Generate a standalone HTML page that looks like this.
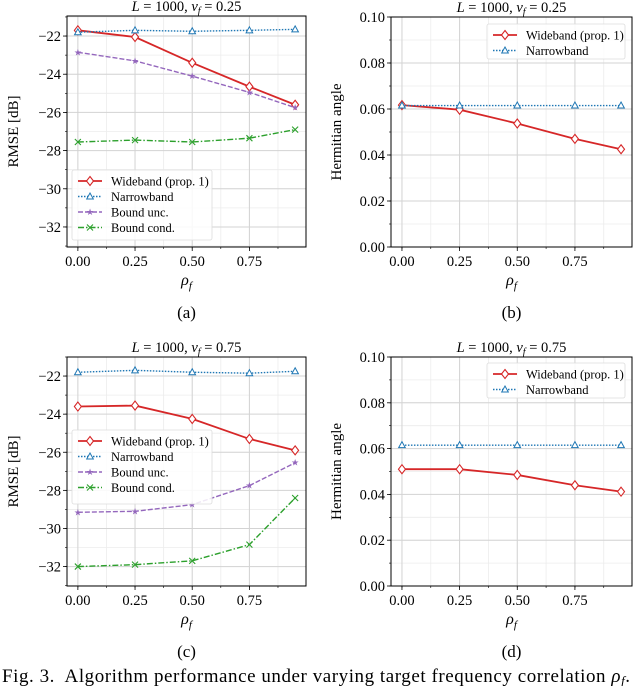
<!DOCTYPE html>
<html><head><meta charset="utf-8">
<style>
html,body{margin:0;padding:0;background:#fff;}
svg{display:block;font-family:"Liberation Serif",serif;}
</style></head>
<body>
<svg id="fig" width="640" height="686" viewBox="0 0 640 686" xmlns="http://www.w3.org/2000/svg">
<text x="2" y="682" font-size="19" fill="#000" textLength="628" lengthAdjust="spacing" xml:space="preserve">Fig. 3.  Algorithm performance under varying target frequency correlation <tspan font-style="italic">ρ</tspan><tspan font-style="italic" font-size="13" dy="3">f</tspan><tspan dy="-3">.</tspan></text>
</svg>
<script>
const xCats = [0, 0.25, 0.5, 0.75, 0.95];
const xTickLabels = ["0.00", "0.25", "0.50", "0.75"];
const xTickVals = [0, 0.25, 0.5, 0.75];
const rmseTicks = [-22, -24, -26, -28, -30, -32];
const angleTicks = [0, 0.02, 0.04, 0.06, 0.08, 0.10];
const angleTickLabels = ["0.00", "0.02", "0.04", "0.06", "0.08", "0.10"];
const aWide = [-21.7, -22.05, -23.4, -24.65, -25.6];
const aNarrow = [-21.8, -21.7, -21.75, -21.7, -21.65];
const aBoundUnc = [-22.85, -23.3, -24.1, -24.95, -25.75];
const aBoundCond = [-27.55, -27.45, -27.55, -27.35, -26.9];
const cWide = [-23.6, -23.55, -24.25, -25.3, -25.9];
const cNarrow = [-21.8, -21.7, -21.8, -21.85, -21.75];
const cBoundUnc = [-29.15, -29.1, -28.75, -27.75, -26.55];
const cBoundCond = [-32.0, -31.9, -31.7, -30.85, -28.4];
const bWide = [0.0617, 0.0597, 0.0537, 0.047, 0.0425];
const bNarrow = [0.0615, 0.0615, 0.0615, 0.0615, 0.0615];
const dWide = [0.051, 0.051, 0.0485, 0.044, 0.0412];
const dNarrow = [0.0615, 0.0615, 0.0615, 0.0615, 0.0615];

const NS = "http://www.w3.org/2000/svg";
const svg = document.getElementById("fig");
function mk(tag, attrs, parent, text) {
  const e = document.createElementNS(NS, tag);
  for (const k in attrs) e.setAttribute(k, attrs[k]);
  if (text !== undefined) e.textContent = text;
  (parent || svg).appendChild(e);
  return e;
}
const styles = {
  wide: {color: "#d62728", dash: "", marker: "diamond", label: "Wideband (prop. 1)"},
  narrow: {color: "#1f77b4", dash: "1.5,1.5", marker: "tri", label: "Narrowband"},
  unc: {color: "#9467bd", dash: "5,2", marker: "star", label: "Bound unc."},
  cond: {color: "#2ca02c", dash: "6,2,1.5,2", marker: "x", label: "Bound cond."}
};
function marker(g, kind, x, y, color) {
  let m;
  if (kind === "diamond") m = mk("polygon", {points: `${x},${y-4.5} ${x+3.5},${y} ${x},${y+4.5} ${x-3.5},${y}`, fill: "#fff", stroke: color, "stroke-width": 1.1}, g);
  else if (kind === "tri") m = mk("polygon", {points: `${x},${y-3.5} ${x+3.3},${y+2.5} ${x-3.3},${y+2.5}`, fill: "#fff", stroke: color, "stroke-width": 1}, g);
  else if (kind === "star") m = mk("text", {x: x, y: y + 3, "font-size": 9, "text-anchor": "middle", fill: color}, g, "★");
  else m = mk("path", {d: `M${x-3},${y-3}L${x+3},${y+3}M${x-3},${y+3}L${x+3},${y-3}`, stroke: color, "stroke-width": 1.1}, g);
  
  
}
function panel(o) {
  const {L, R, T, B, xmin, xmax, ymin, ymax} = o;
  const sx = v => L + (v - xmin) / (xmax - xmin) * (R - L);
  const sy = v => B - (v - ymin) / (ymax - ymin) * (B - T);
  const g = mk("g", {});
  
  
  for (let v = 0; v <= xmax; v += 0.125) {
    const ln = mk("line", {x1: sx(v), x2: sx(v), y1: T, y2: B, stroke: "#ececec", "stroke-width": 0.8}, g);
    
    
  }
  for (let i = Math.ceil(ymin / o.minor); i * o.minor <= ymax + 1e-9; i++) {
    const v = i * o.minor;
    const ln = mk("line", {x1: L, x2: R, y1: sy(v), y2: sy(v), stroke: "#ececec", "stroke-width": 0.8}, g);
    
    
    const tk = mk("line", {x1: L - 2, x2: L, y1: sy(v), y2: sy(v), stroke: "#000", "stroke-width": 0.6}, g);
    
    
  }
  for (let v = 0; v <= xmax; v += 0.125) {
    const tk = mk("line", {x1: sx(v), x2: sx(v), y1: B, y2: B + 2, stroke: "#000", "stroke-width": 0.6}, g);
    
    
  }
  xTickVals.forEach((v, i) => {
    const ln = mk("line", {x1: sx(v), x2: sx(v), y1: T, y2: B, stroke: "#d3d3d3", "stroke-width": 1}, g);
    
    
    const tk = mk("line", {x1: sx(v), x2: sx(v), y1: B, y2: B + 4, stroke: "#000", "stroke-width": 0.8}, g);
    
    
    const t = mk("text", {x: sx(v), y: B + 19, "font-size": 14.5, "text-anchor": "middle"}, g, xTickLabels[i]);
    
    
  });
  o.yTicks.forEach((v, i) => {
    const ln = mk("line", {x1: L, x2: R, y1: sy(v), y2: sy(v), stroke: "#d3d3d3", "stroke-width": 1}, g);
    
    
    const tk = mk("line", {x1: L - 4, x2: L, y1: sy(v), y2: sy(v), stroke: "#000", "stroke-width": 0.8}, g);
    
    
    const t = mk("text", {x: L - 6, y: sy(v) + 5, "font-size": 14.5, "text-anchor": "end"}, g, o.yLabels[i]);
    
    
  });
  o.series.forEach(s => {
    const st = styles[s.key];
    const pts = s.data.map((v, i) => sx(xCats[i]) + "," + sy(v)).join(" ");
    const pl = mk("polyline", {points: pts, fill: "none", stroke: st.color, "stroke-width": s.key === "wide" ? 1.8 : 1.4, "stroke-dasharray": st.dash}, g);
    
    
    s.data.forEach((v, i) => marker(g, st.marker, sx(xCats[i]), sy(v), st.color));
  });
  const fr = mk("rect", {x: L, y: T, width: R - L, height: B - T, fill: "none", stroke: "#000", "stroke-width": 1}, g);
  
  
  const lg = mk("g", {}, g);
  
  
  const lb = mk("rect", {x: o.leg[0], y: o.leg[1], width: o.leg[2], height: o.leg[3], rx: 2, fill: "#fff", "fill-opacity": 0.85, stroke: "#ddd", "stroke-width": 0.8}, lg);
  
  
  o.series.forEach((s, i) => {
    const st = styles[s.key];
    const y = o.leg[1] + 11 + i * 15.5;
    const x0 = o.leg[0] + 6;
    const l = mk("line", {x1: x0, x2: x0 + 24, y1: y, y2: y, stroke: st.color, "stroke-width": s.key === "wide" ? 1.8 : 1.4, "stroke-dasharray": st.dash}, lg);
    
    
    marker(lg, st.marker, x0 + 12, y, st.color);
    const t = mk("text", {x: x0 + 33, y: y + 4.5, "font-size": 12.5}, lg, st.label);
    
    
  });
  const ti = mk("text", {x: (L + R) / 2, y: T - 5, "font-size": 14.5, "text-anchor": "middle"}, g);
  
  
  ti.innerHTML = `<tspan font-style="italic">L</tspan> = 1000, <tspan font-style="italic">v</tspan><tspan font-style="italic" font-size="10" dy="3">f</tspan><tspan dy="-3"> = ${o.vf}</tspan>`;
  const yl = mk("text", {x: 0, y: 0, "font-size": 15, "text-anchor": "middle", transform: `translate(${o.ylx},${(T + B) / 2}) rotate(-90)`}, g, o.ylabel);
  
  
  const xl = mk("text", {x: (L + R) / 2, y: B + 38, "font-size": 16, "text-anchor": "middle", "font-style": "italic"}, g);
  
  
  xl.innerHTML = `ρ<tspan font-size="11" dy="4">f</tspan>`;
  const sub = mk("text", {x: (L + R) / 2, y: B + 71, "font-size": 17, "text-anchor": "middle"}, g, o.sub);
  
  
}
const xr = [-0.0475, 0.9975];
panel({name: "panel-a", L: 67, R: 306, T: 16, B: 247, xmin: xr[0], xmax: xr[1], ymin: -33.05, ymax: -20.95, minor: 1,
  yTicks: rmseTicks, yLabels: rmseTicks.map(v => "−" + Math.abs(v)), ylabel: "RMSE [dB]", ylx: 18, vf: "0.25", sub: "(a)",
  leg: [72, 170, 140, 70],
  series: [{key: "wide", data: aWide}, {key: "narrow", data: aNarrow}, {key: "unc", data: aBoundUnc}, {key: "cond", data: aBoundCond}]});
panel({name: "panel-c", L: 67, R: 306, T: 357, B: 586, xmin: xr[0], xmax: xr[1], ymin: -33.02, ymax: -21.0, minor: 1,
  yTicks: rmseTicks, yLabels: rmseTicks.map(v => "−" + Math.abs(v)), ylabel: "RMSE [dB]", ylx: 18, vf: "0.75", sub: "(c)",
  leg: [72, 430, 140, 74],
  series: [{key: "wide", data: cWide}, {key: "narrow", data: cNarrow}, {key: "unc", data: cBoundUnc}, {key: "cond", data: cBoundCond}]});
panel({name: "panel-b", L: 391, R: 632, T: 17, B: 247, xmin: xr[0], xmax: xr[1], ymin: 0, ymax: 0.1, minor: 0.01,
  yTicks: angleTicks, yLabels: angleTickLabels, ylabel: "Hermitian angle", ylx: 341, vf: "0.25", sub: "(b)",
  leg: [487, 24, 138, 35],
  series: [{key: "wide", data: bWide}, {key: "narrow", data: bNarrow}]});
panel({name: "panel-d", L: 391, R: 632, T: 357, B: 586, xmin: xr[0], xmax: xr[1], ymin: 0, ymax: 0.1, minor: 0.01,
  yTicks: angleTicks, yLabels: angleTickLabels, ylabel: "Hermitian angle", ylx: 341, vf: "0.75", sub: "(d)",
  leg: [487, 363, 138, 35],
  series: [{key: "wide", data: dWide}, {key: "narrow", data: dNarrow}]});
</script>
</body></html>
